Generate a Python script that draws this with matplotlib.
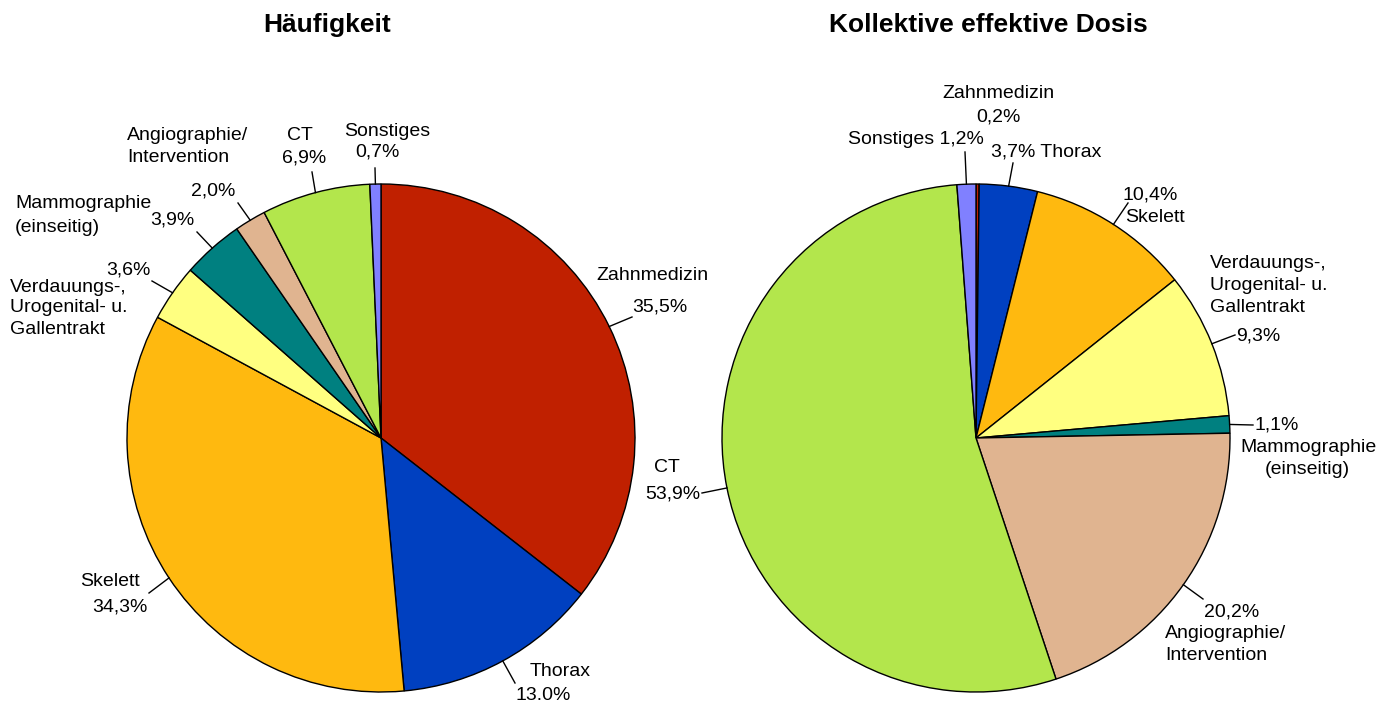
import numpy as np
import matplotlib.pyplot as plt

plt.rcParams['font.family'] = ['Liberation Sans', 'DejaVu Sans']

W, H = 1393, 703

categories = ['Zahnmedizin', 'Thorax', 'Skelett', 'Verdauungs', 'Mammographie',
              'Angiographie', 'CT', 'Sonstiges']
colors = ['#C02000', '#0040C0', '#FFB90F', '#FFFF80', '#008080',
          '#E0B490', '#B3E64C', '#8080FF']

haeufigkeit = [35.5, 13.0, 34.3, 3.6, 3.9, 2.0, 6.9, 0.7]
dosis = [0.2, 3.7, 10.4, 9.3, 1.1, 20.2, 53.9, 1.2]

pct_left = ['35,5%', '13.0%', '34,3%', '3,6%', '3,9%', '2,0%', '6,9%', '0,7%']
pct_right = ['0,2%', '3,7%', '10,4%', '9,3%', '1,1%', '20,2%', '53,9%', '1,2%']

# label layout in pixel coords (x, y from top): lines of (text, x, y, ha), leader end
left_layout = [
    ([('Zahnmedizin', 652, 275, 'center'), ('{p}', 660, 307, 'center')], (632, 317)),
    ([('Thorax', 560, 672, 'center'), ('{p}', 543, 696, 'center')], (515, 683)),
    ([('Skelett', 110, 582, 'center'), ('{p}', 120, 607, 'center')], (149, 593)),
    ([('{p}', 128, 270, 'center'), ('Verdauungs-,', 10, 287, 'left'),
      ('Urogenital- u.', 10, 308, 'left'), ('Gallentrakt', 10, 329, 'left')], (152, 281)),
    ([('Mammographie', 15, 204, 'left'), ('(einseitig)', 15, 228, 'left'),
      ('{p}', 172, 220, 'center')], (197, 232)),
    ([('Angiographie/', 127, 136, 'left'), ('Intervention', 127, 158, 'left'),
      ('{p}', 213, 191, 'center')], (238, 203)),
    ([('CT', 300, 136, 'center'), ('{p}', 304, 158, 'center')], (312, 172)),
    ([('Sonstiges', 387, 131, 'center'), ('{p}', 377, 152, 'center')], (375, 168)),
]

right_layout = [
    ([('Zahnmedizin', 998, 93, 'center'), ('{p}', 998, 117, 'center')], None),
    ([('{p} Thorax', 991, 152, 'left')], (1013, 163)),
    ([('{p}', 1150, 195, 'center'), ('Skelett', 1155, 217, 'center')], (1128, 203)),
    ([('Verdauungs-,', 1210, 264, 'left'), ('Urogenital- u.', 1210, 286, 'left'),
      ('Gallentrakt', 1210, 308, 'left'), ('{p}', 1258, 336, 'center')], (1235, 335)),
    ([('{p}', 1255, 425, 'left'), ('Mammographie', 1308, 447, 'center'),
      ('(einseitig)', 1307, 470, 'center')], (1253, 425)),
    ([('{p}', 1232, 612, 'center'), ('Angiographie/', 1165, 633, 'left'),
      ('Intervention', 1165, 655, 'left')], (1203, 599)),
    ([('CT', 667, 467, 'center'), ('{p}', 673, 494, 'center')], (702, 493)),
    ([('Sonstiges {p}', 916, 140, 'center')], (965, 152)),
]

fig = plt.figure(figsize=(W / 100, H / 100), dpi=100)
ax = fig.add_axes([0, 0, 1, 1])


def draw_pie(values, pcts, layout, cx, cy, r, title, tx):
    wedges, _ = ax.pie(values, colors=colors, startangle=90, counterclock=False,
                       radius=r, center=(cx, H - cy),
                       wedgeprops=dict(edgecolor='black', linewidth=1.0))
    for w, p, (lines, end) in zip(wedges, pcts, layout):
        for txt, x, y, ha in lines:
            ax.text(x, H - y, txt.format(p=p), ha=ha, va='center', fontsize=14)
        if end is not None:
            th = np.deg2rad((w.theta1 + w.theta2) / 2)
            sx = cx + r * np.cos(th)
            sy = H - cy + r * np.sin(th)
            ax.plot([sx, end[0]], [sy, H - end[1]], color='black', lw=1.0)
    ax.text(tx, H - 25, title, ha='center', va='center', fontsize=19, fontweight='bold')


draw_pie(haeufigkeit, pct_left, left_layout, 381, 438, 254, 'Häufigkeit', 327)
draw_pie(dosis, pct_right, right_layout, 976, 438, 254, 'Kollektive effektive Dosis', 988)

ax.set_xlim(0, W)
ax.set_ylim(0, H)
ax.set_aspect('equal')
ax.axis('off')

fig.savefig('out.png', dpi=100, facecolor='white')
